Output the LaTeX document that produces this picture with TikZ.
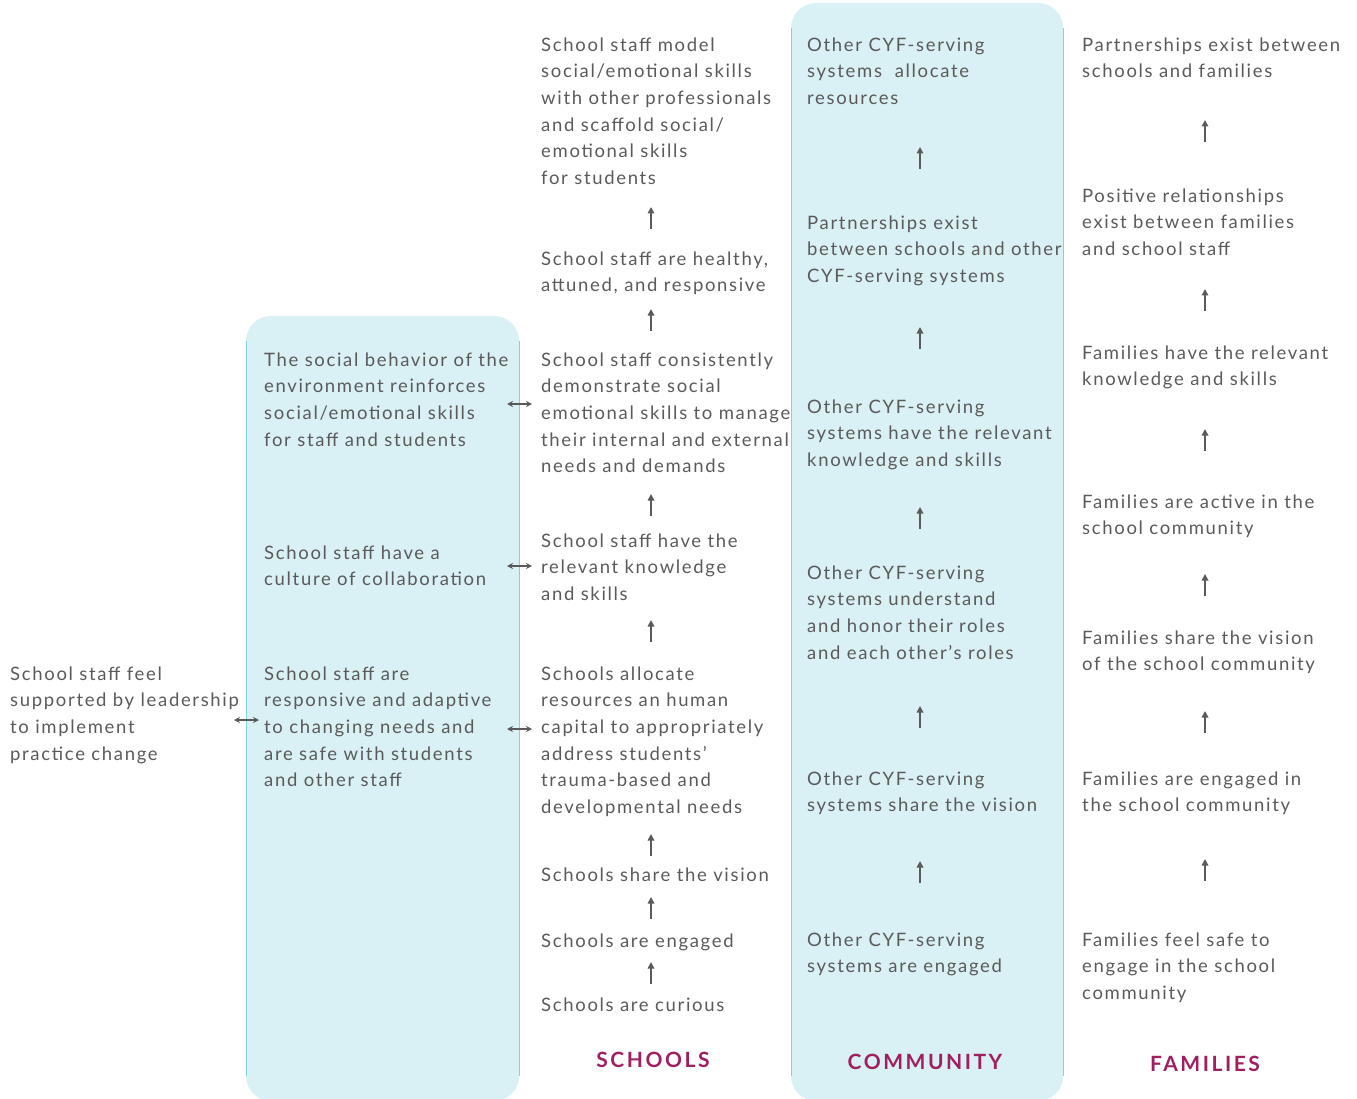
\documentclass[tikz,border=0pt]{standalone}
\usepackage{fontspec}
\setmainfont{Lato}[LetterSpace=9]
\usetikzlibrary{arrows.meta}
\definecolor{txt}{HTML}{5A5A5A}
\definecolor{panelfill}{HTML}{D9F0F4}
\definecolor{panelline}{HTML}{80D2DE}
\definecolor{head}{HTML}{A0205F}
\tikzset{
  lbl/.style={anchor=north west, align=left, inner sep=0pt, text=txt,
    font=\fontsize{18.5}{26.6}\selectfont},
  colhead/.style={anchor=base, inner sep=0pt, text=head,
    font=\fontsize{21}{24}\selectfont\bfseries\addfontfeature{LetterSpace=12}},
  uparrow/.style={draw=txt, line width=1.6pt, -{Triangle[width=6.5pt,length=6.5pt]}},
  twoway/.style={draw=txt, line width=1.2pt, {Stealth[width=6pt,length=6pt]}-{Stealth[width=6pt,length=6pt]}},
  panel/.style={fill=panelfill, rounded corners=25pt},
  edge/.style={draw=panelline, line width=0.8pt}
}
% first-line baseline y  ->  node top (height of capitals and ascenders)
\newcommand{\bl}[1]{\fpeval{#1-13.6}}
\begin{document}
\begin{tikzpicture}[x=1pt,y=-1pt]
\useasboundingbox (0,0) rectangle (1357,1099);

% shaded panels
\fill[panel] (246,316) rectangle (519,1101);
\draw[edge] (246,341) -- (246,1076);
\draw[edge] (519,341) -- (519,1076);
\fill[panel] (791,3) rectangle (1063,1101);
\draw[edge] (791,28) -- (791,1076);
\draw[edge] (1063,28) -- (1063,1076);

% leadership
\node[lbl] (lead) at (10,\bl{680}) {School staff feel\\supported by leadership\\to implement\\practice change};

% environment panel
\node[lbl] (env1) at (264,\bl{366}) {The social behavior of the\\environment reinforces\\social/emotional skills\\for staff and students};
\node[lbl] (env2) at (264,\bl{559}) {School staff have a\\culture of collaboration};
\node[lbl] (env3) at (264,\bl{680}) {School staff are\\responsive and adaptive\\to changing needs and\\are safe with students\\and other staff};

% schools column
\node[lbl] (s1) at (541,\bl{51}) {School staff model\\social/emotional skills\\with other professionals\\and scaffold social/\\emotional skills\\for students};
\node[lbl] (s2) at (541,\bl{265}) {School staff are healthy,\\attuned, and responsive};
\node[lbl] (s3) at (541,\bl{366}) {School staff consistently\\demonstrate social\\emotional skills to manage\\their internal and external\\needs and demands};
\node[lbl] (s4) at (541,\bl{547}) {School staff have the\\relevant knowledge\\and skills};
\node[lbl] (s5) at (541,\bl{680}) {Schools allocate\\resources an human\\capital to appropriately\\address students’\\trauma-based and\\developmental needs};
\node[lbl] (s6) at (541,\bl{881}) {Schools share the vision};
\node[lbl] (s7) at (541,\bl{947}) {Schools are engaged};
\node[lbl] (s8) at (541,\bl{1011}) {Schools are curious};
\node[colhead] (hs) at (653,1067) {SCHOOLS};

% community column
\node[lbl] (c1) at (807,\bl{51}) {Other CYF-serving\\systems\ \ allocate\\resources};
\node[lbl] (c2) at (807,\bl{229}) {Partnerships exist\\between schools and other\\CYF-serving systems};
\node[lbl] (c3) at (807,\bl{413}) {Other CYF-serving\\systems have the relevant\\knowledge and skills};
\node[lbl] (c4) at (807,\bl{579}) {Other CYF-serving\\systems understand\\and honor their roles\\and each other’s roles};
\node[lbl] (c5) at (807,\bl{785}) {Other CYF-serving\\systems share the vision};
\node[lbl] (c6) at (807,\bl{946}) {Other CYF-serving\\systems are engaged};
\node[colhead] (hc) at (925,1069) {COMMUNITY};

% families column
\node[lbl] (f1) at (1082,\bl{51}) {Partnerships exist between\\schools and families};
\node[lbl] (f2) at (1082,\bl{202}) {Positive relationships\\exist between families\\and school staff};
\node[lbl] (f3) at (1082,\bl{359}) {Families have the relevant\\knowledge and skills};
\node[lbl] (f4) at (1082,\bl{508}) {Families are active in the\\school community};
\node[lbl] (f5) at (1082,\bl{644}) {Families share the vision\\of the school community};
\node[lbl] (f6) at (1082,\bl{785}) {Families are engaged in\\the school community};
\node[lbl] (f7) at (1082,\bl{946}) {Families feel safe to\\engage in the school\\community};
\node[colhead] (hf) at (1205,1071) {FAMILIES};

% upward steps
\foreach \y in {218,320,505,631,845,908,973}
  \draw[uparrow] (651,\y+11) -- (651,\y-11);
\foreach \y in {158,338,518,717,872}
  \draw[uparrow] (920,\y+11) -- (920,\y-11);
\foreach \y in {131,300,440,585,722,870}
  \draw[uparrow] (1205,\y+11) -- (1205,\y-11);

% two-way links
\foreach \y in {404,566,729}
  \draw[twoway] (507,\y) -- (532,\y);
\draw[twoway] (234,720) -- (259,720);
\end{tikzpicture}
\end{document}
